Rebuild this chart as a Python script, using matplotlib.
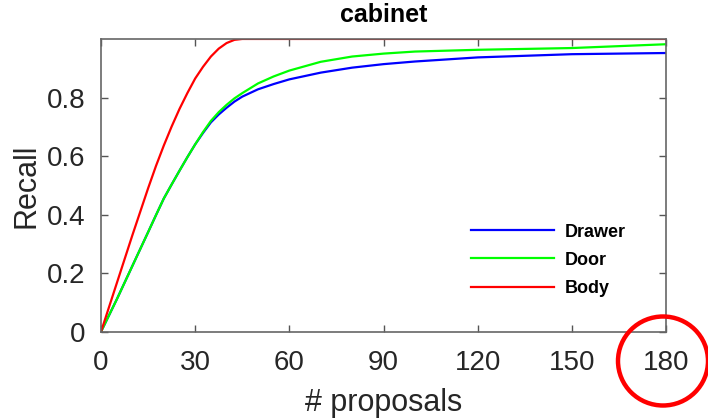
import matplotlib.pyplot as plt
from matplotlib.patches import Ellipse

# values
num_proposals = [0, 5, 10, 15, 17.5, 20, 22.5, 25, 27.5, 30, 32.5, 35, 37.5, 40, 42.5, 45,
                 50, 55, 60, 70, 80, 90, 100, 120, 150, 180]
recall_drawer = [0, 0.11, 0.225, 0.34, 0.398, 0.455, 0.503, 0.55, 0.596, 0.64, 0.679, 0.715,
                 0.742, 0.765, 0.786, 0.803, 0.828, 0.846, 0.862, 0.885, 0.902, 0.914, 0.923,
                 0.937, 0.948, 0.952]
recall_door = [0, 0.11, 0.225, 0.34, 0.398, 0.455, 0.503, 0.55, 0.596, 0.64, 0.682, 0.72,
               0.75, 0.775, 0.797, 0.815, 0.848, 0.872, 0.892, 0.922, 0.94, 0.95, 0.957,
               0.963, 0.969, 0.982]
recall_body = [0, 0.165, 0.33, 0.49, 0.566, 0.636, 0.701, 0.761, 0.815, 0.865, 0.905, 0.94,
               0.967, 0.986, 0.997, 1.0, 1.0, 1.0, 1.0, 1.0, 1.0, 1.0, 1.0, 1.0, 1.0, 1.0]
xticks = [0, 30, 60, 90, 120, 150, 180]
yticks = [0, 0.2, 0.4, 0.6, 0.8]

plt.rcParams['font.family'] = ['Liberation Sans', 'DejaVu Sans']

fig = plt.figure(figsize=(7.08, 4.19), dpi=100)
ax = fig.add_axes([0.1427, 0.2084, 0.798, 0.6986])

ax.plot(num_proposals, recall_drawer, color='#0000ff', lw=1.6, label='Drawer')
ax.plot(num_proposals, recall_door, color='#00ff00', lw=1.6, label='Door')
ax.plot(num_proposals, recall_body, color='#ff0000', lw=1.6, label='Body')

ax.set_xlim(0, 180)
ax.set_ylim(0, 1)
ax.set_xticks(xticks)
ax.set_yticks(yticks)
ax.set_yticklabels(['0', '0.2', '0.4', '0.6', '0.8'])
ax.tick_params(direction='in', top=True, right=True, length=5, width=1,
               color='#555555', labelsize=20, labelcolor='#262626')
ax.tick_params(axis='x', pad=13)
ax.tick_params(axis='y', pad=11)
for s in ax.spines.values():
    s.set_color('#666666')
    s.set_linewidth(1.2)

ax.set_xlabel('# proposals', fontsize=22, color='#262626', labelpad=9)
ax.set_ylabel('Recall', fontsize=22, color='#262626', labelpad=4)
ax.set_title('cabinet', fontsize=18, fontweight='bold', pad=12)

leg = ax.legend(loc='lower right', bbox_to_anchor=(0.958, 0.063), frameon=False,
                prop={'size': 13, 'weight': 'bold'}, handlelength=4.6,
                handletextpad=0.6, labelspacing=0.62)

# red circle around the last tick label
circ = Ellipse((663 / 708, 1 - 361 / 419), 90 / 708, 89 / 419, transform=fig.transFigure,
               fill=False, edgecolor='#ff0000', lw=3.2, clip_on=False)
fig.patches.append(circ)

fig.savefig('out.png', dpi=100)
